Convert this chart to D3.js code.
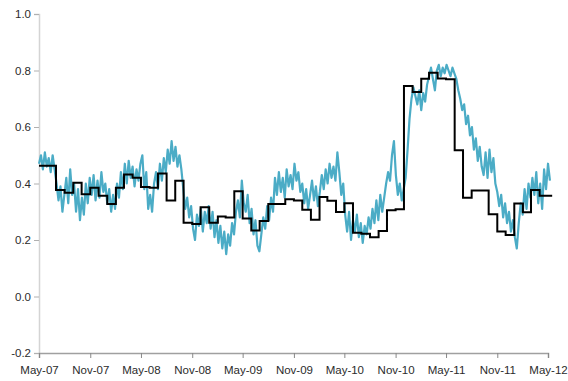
<!DOCTYPE html>
<html>
<head>
<meta charset="utf-8">
<script src="https://cdn.jsdelivr.net/npm/d3@7"></script>
<style>
  html, body { margin: 0; padding: 0; background: #fff; }
  svg { display: block; font-family: Lato, "Open Sans", sans-serif; }
</style>
</head>
<body>
<svg id="chart" width="568" height="381"></svg>
<script>
// Weekly observations starting 1 May 2007 (one value per week)
const weeklyStart = "2007-05-01";
const weeklyValues = [
  0.47, 0.50, 0.45, 0.51, 0.46, 0.49, 0.44, 0.50, 0.45,
  0.40, 0.34, 0.39, 0.30, 0.36,
  0.42, 0.33, 0.45, 0.36, 0.40,
  0.30, 0.38, 0.27, 0.35, 0.29, 0.40, 0.33, 0.42,
  0.36, 0.43, 0.34, 0.41, 0.35, 0.44, 0.37, 0.40, 0.33, 0.38,
  0.30, 0.36, 0.31, 0.40, 0.35, 0.44,
  0.38, 0.47, 0.40, 0.48, 0.42, 0.46, 0.39, 0.45, 0.41, 0.47,
  0.50, 0.38, 0.44, 0.31, 0.36,
  0.30, 0.40, 0.44, 0.38, 0.47, 0.41, 0.49, 0.44, 0.52, 0.47,
  0.55, 0.48, 0.53, 0.46, 0.50, 0.45,
  0.38, 0.31, 0.35, 0.28,
  0.32, 0.24, 0.20, 0.29, 0.25, 0.31, 0.23, 0.30, 0.26, 0.32,
  0.24, 0.30, 0.21, 0.27, 0.19, 0.25, 0.17, 0.23, 0.15, 0.22, 0.18,
  0.26, 0.22, 0.30, 0.34, 0.28, 0.41,
  0.33, 0.30, 0.36, 0.26, 0.31, 0.22, 0.27, 0.18, 0.16,
  0.22, 0.28, 0.24, 0.32, 0.27, 0.35, 0.30, 0.42,
  0.36, 0.44, 0.37, 0.42, 0.35, 0.45, 0.39, 0.43, 0.38, 0.47, 0.41, 0.44, 0.37,
  0.40, 0.33, 0.38, 0.31, 0.36, 0.41, 0.34, 0.39, 0.32, 0.37, 0.43,
  0.38, 0.45, 0.40, 0.47, 0.42, 0.46, 0.41, 0.51,
  0.44, 0.36, 0.40, 0.29, 0.23, 0.30, 0.20,
  0.27, 0.23, 0.29, 0.21, 0.26, 0.19, 0.25, 0.22, 0.28, 0.24,
  0.31, 0.26, 0.34, 0.27, 0.36, 0.30, 0.35,
  0.40, 0.44, 0.41, 0.50, 0.55,
  0.43, 0.36, 0.40, 0.34, 0.38,
  0.42, 0.52, 0.63, 0.70, 0.74,
  0.71, 0.68, 0.73, 0.66, 0.72, 0.69, 0.75,
  0.78, 0.81, 0.77, 0.73, 0.80, 0.82, 0.78, 0.81, 0.79, 0.82, 0.80, 0.78, 0.81, 0.79,
  0.77, 0.73, 0.70, 0.66, 0.68, 0.61,
  0.64, 0.57, 0.60, 0.52, 0.56, 0.48, 0.53, 0.46,
  0.43, 0.51, 0.42, 0.52, 0.44,
  0.49, 0.40, 0.37, 0.32, 0.36, 0.28, 0.33, 0.26,
  0.30, 0.23, 0.27, 0.21, 0.17,
  0.26, 0.33, 0.29, 0.38, 0.31, 0.40, 0.35, 0.42,
  0.36, 0.44, 0.33, 0.40, 0.31, 0.45, 0.38, 0.47, 0.41
];

// Monthly averages, May-07 .. Apr-12
const monthlyStart = "2007-05-01";
const monthlyValues = [
  0.463, 0.463, 0.377, 0.367, 0.403, 0.362, 0.385, 0.357,
  0.327, 0.385, 0.432, 0.420, 0.388, 0.385, 0.435, 0.340, 0.410, 0.261, 0.257, 0.316,
  0.261, 0.283, 0.280, 0.373, 0.276, 0.234, 0.267, 0.327, 0.327, 0.344, 0.340, 0.307,
  0.272, 0.352, 0.339, 0.299, 0.330, 0.226, 0.222, 0.210, 0.232, 0.305, 0.309, 0.745,
  0.724, 0.771, 0.792, 0.772, 0.769, 0.518, 0.350, 0.375, 0.375, 0.291, 0.230, 0.218,
  0.329, 0.298, 0.377, 0.357
];
const monthlyEnd = "2012-05-16";

// Axis ticks
const yTicks = [-0.2, 0.0, 0.2, 0.4, 0.6, 0.8, 1.0];
const xTickLabels = ["May-07", "Nov-07", "May-08", "Nov-08", "May-09", "Nov-09",
                     "May-10", "Nov-10", "May-11", "Nov-11", "May-12"];

const parse = d3.timeParse("%Y-%m-%d");
const parseTick = d3.timeParse("%b-%y");

const weekly = weeklyValues.map((v, i) => ({ date: d3.timeDay.offset(parse(weeklyStart), i * 7), value: v }));
const monthly = monthlyValues.map((v, i) => ({ date: d3.timeMonth.offset(parse(monthlyStart), i), value: v }));
monthly.push({ date: parse(monthlyEnd), value: monthlyValues[monthlyValues.length - 1] });

const tickDates = xTickLabels.map(parseTick);

const svg = d3.select("#chart");
const plot = { left: 39, right: 548, top: 14, bottom: 353 };

const x = d3.scaleTime()
  .domain([tickDates[0], tickDates[tickDates.length - 1]])
  .range([plot.left, plot.right]);
const y = d3.scaleLinear().domain([-0.2, 1.0]).range([plot.bottom, plot.top]);

// Y axis
const yAxis = svg.append("g")
  .attr("transform", `translate(${plot.left},0)`)
  .call(d3.axisLeft(y).tickValues(yTicks).tickSize(5).tickPadding(3)
    .tickFormat(d => d.toFixed(1)));
yAxis.select(".domain").attr("stroke", "#d4d4d4").attr("stroke-width", 1.5);
yAxis.selectAll(".tick line").attr("stroke", "#b0b0b0");
yAxis.selectAll(".tick text").attr("fill", "#2b2b2b").attr("font-size", 11.5);

// X axis
const xAxis = svg.append("g")
  .attr("transform", `translate(0,${plot.bottom})`)
  .call(d3.axisBottom(x).tickValues(tickDates).tickSize(5).tickPadding(8)
    .tickFormat((d, i) => xTickLabels[i]));
xAxis.select(".domain").attr("stroke", "#a0a0a0").attr("stroke-width", 1.5);
xAxis.selectAll(".tick line").attr("stroke", "#888");
xAxis.selectAll(".tick text").attr("fill", "#2b2b2b").attr("font-size", 11.5);

// Weekly series
svg.append("path")
  .datum(weekly)
  .attr("fill", "none")
  .attr("stroke", "#4bacc6")
  .attr("stroke-width", 2.2)
  .attr("stroke-linejoin", "round")
  .attr("d", d3.line().x(d => x(d.date)).y(d => y(d.value)));

// Monthly step series
svg.append("path")
  .datum(monthly)
  .attr("fill", "none")
  .attr("stroke", "#000")
  .attr("stroke-width", 2)
  .attr("d", d3.line().curve(d3.curveStepAfter).x(d => x(d.date)).y(d => y(d.value)));
</script>
</body>
</html>
